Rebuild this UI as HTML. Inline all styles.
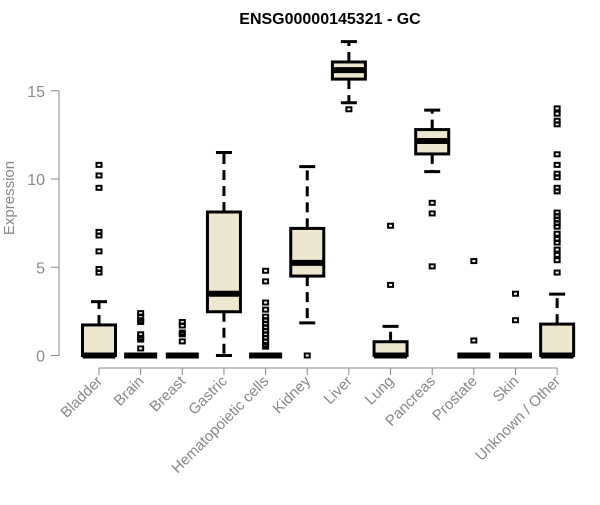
<!DOCTYPE html>
<html><head><meta charset="utf-8"><style>
body{margin:0;background:#fff}
svg text{font-family:"Liberation Sans",Arial,sans-serif}
</style></head><body>
<svg id="chart" width="600" height="500">
<text x="330" y="24" text-anchor="middle" font-weight="bold" font-size="16">ENSG00000145321 - GC</text>
<text transform="translate(14,198) rotate(-90)" text-anchor="middle" font-size="15" fill="#888">Expression</text>
<g id="yaxis"></g>
<g id="xaxis"></g>
<g id="boxes"></g>
</svg>
<script>
const categories=["Bladder","Brain","Breast","Gastric","Hematopoietic cells","Kidney","Liver","Lung","Pancreas","Prostate","Skin","Unknown / Other"];
const lowerWhisker=[0,0,0,0,0,1.85,14.32,0,10.42,0,0,0];
const q1=[0,0,0,2.48,0,4.5,15.66,0,11.42,0,0,0];
const medians=[0,0,0,3.5,0,5.25,16.17,0,12.15,0,0,0];
const q3=[1.73,0,0,8.13,0,7.2,16.63,0.78,12.8,0,0,1.78];
const upperWhisker=[3.05,0,0,11.5,0,10.7,17.78,1.65,13.9,0,0,3.48];
const outliers=[
 [10.8,10.2,9.5,7.0,6.8,5.9,4.9,4.7],
 [2.4,2.2,2.0,1.9,1.2,1.0,0.9,0.4],
 [1.9,1.7,1.3,1.2,0.8],
 [],
 [4.8,4.2,3.0,2.6,2.2,2.0,1.8,1.6,1.4,1.2,1.0,0.8,0.6,0.5],
 [0],
 [13.95],
 [7.35,4.0],
 [8.65,8.05,5.05],
 [5.35,0.85],
 [3.5,2.0],
 [14.0,13.7,13.3,13.1,11.4,10.8,10.3,10.1,9.5,9.3,8.1,7.9,7.7,7.5,7.3,6.9,6.6,6.4,6.0,5.7,5.4,4.7]
];
const yTicks=[0,5,10,15];
const NS="http://www.w3.org/2000/svg";
const y=v=>355.5-v*17.65;
const x=i=>99+i*41.65;
function mk(tag,attrs,parent){const e=document.createElementNS(NS,tag);for(const k in attrs)e.setAttribute(k,attrs[k]);parent.appendChild(e);return e;}
const ya=document.getElementById('yaxis'),xa=document.getElementById('xaxis'),bx=document.getElementById('boxes');
mk('line',{x1:59,x2:59,y1:y(0),y2:y(15),stroke:'#888'},ya);
yTicks.forEach(t=>{
 const l=mk('line',{x1:51,x2:59,y1:y(t),y2:y(t),stroke:'#888'},ya);
 
 
 const tx=mk('text',{x:45,y:y(t)+6,'text-anchor':'end','font-size':16,fill:'#888'},ya);
 tx.textContent=t;
 
 
});
mk('line',{x1:x(0),x2:x(categories.length-1),y1:368,y2:368,stroke:'#888'},xa);
categories.forEach((c,i)=>{
 mk('line',{x1:x(i),x2:x(i),y1:368,y2:375,stroke:'#888'},xa);
 const tx=mk('text',{transform:`translate(${x(i)+4},${382}) rotate(-45)`,'text-anchor':'end','font-size':15,fill:'#888'},xa);
 tx.textContent=c;
 
 
 const g=mk('g',{},bx);
 
 
 const cx=x(i),hw=16.5;
 if(upperWhisker[i]>q3[i]){
  mk('line',{x1:cx,x2:cx,y1:y(q3[i]),y2:y(upperWhisker[i]),stroke:'#000','stroke-width':3,'stroke-dasharray':'10,6'},g);
  mk('line',{x1:cx-8,x2:cx+8,y1:y(upperWhisker[i]),y2:y(upperWhisker[i]),stroke:'#000','stroke-width':3},g);
 }
 if(lowerWhisker[i]<q1[i]){
  mk('line',{x1:cx,x2:cx,y1:y(q1[i]),y2:y(lowerWhisker[i]),stroke:'#000','stroke-width':3,'stroke-dasharray':'10,6'},g);
  mk('line',{x1:cx-8,x2:cx+8,y1:y(lowerWhisker[i]),y2:y(lowerWhisker[i]),stroke:'#000','stroke-width':3},g);
 }
 mk('rect',{x:cx-hw,y:y(q3[i]),width:hw*2,height:Math.max(0,y(q1[i])-y(q3[i])),fill:'#ede7cf',stroke:'#000','stroke-width':3},g);
 mk('line',{x1:cx-hw,x2:cx+hw,y1:y(medians[i]),y2:y(medians[i]),stroke:'#000','stroke-width':6},g);
 outliers[i].forEach(v=>{
  const p=mk('rect',{x:cx-2.5,y:y(v)-2,width:5,height:4,fill:'none',stroke:'#000','stroke-width':2},g);
  
  
 });
});
</script>
</body></html>
